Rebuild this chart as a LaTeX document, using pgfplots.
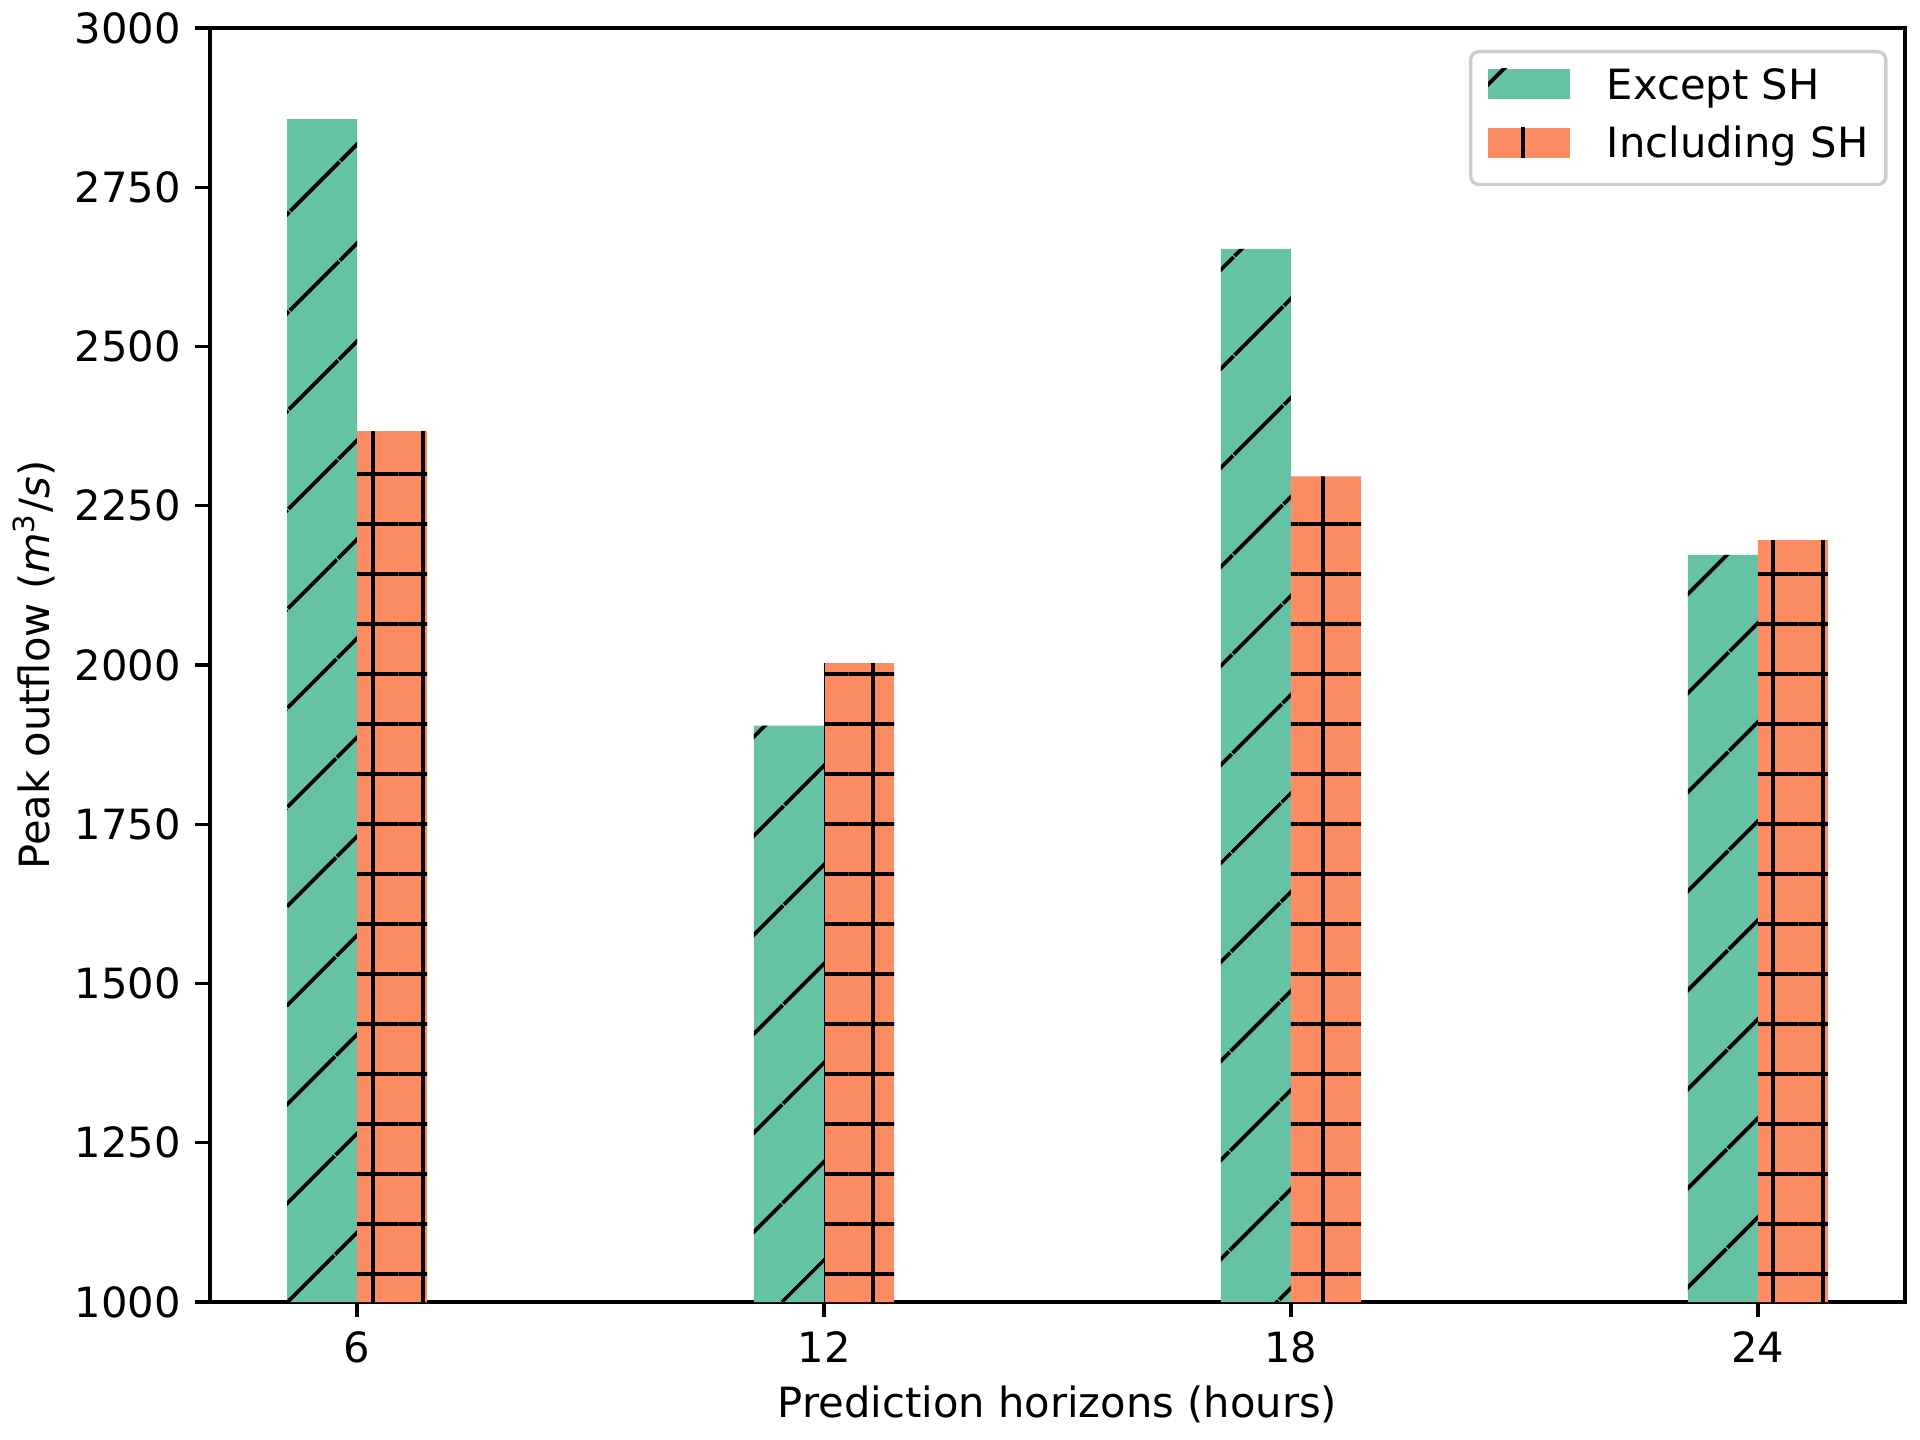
\documentclass[border=0pt]{standalone}
\usepackage{pgfplots}
\pgfplotsset{compat=1.18}
\usepackage{fontspec}
\setmainfont{DejaVu Sans}
\usetikzlibrary{patterns.meta}
\definecolor{cg}{HTML}{66C2A5}
\definecolor{co}{HTML}{FC8D62}
\definecolor{legedge}{gray}{0.8}

\pgfplotstableread{
x except including
6 2857 2367
12 1905 2003
18 2653 2296
24 2173 2196
}\datatab

\begin{document}
\fontsize{10pt}{12pt}\selectfont
\begin{tikzpicture}
\useasboundingbox (0,0) rectangle (460.8pt,345.6pt);
\begin{axis}[
  at={(50.4pt,33.1pt)}, anchor=south west,
  scale only axis, width=406.8pt, height=305.8pt,
  xmin=4.11, xmax=25.89, ymin=1000, ymax=3000,
  xtick={6,12,18,24}, ytick={1000,1250,...,3000},
  tick align=outside, major tick length=3.5pt,
  tick style={line width=0.8pt, black},
  axis line style={line width=0.8pt},
  tick pos=left,
  /pgf/number format/assume math mode=true,
  /pgf/number format/1000 sep={},
  xlabel={Prediction horizons (hours)},
  ylabel={Peak outflow (\textit{m}\textsuperscript{3}/\textit{s})},
  xlabel style={at={(axis description cs:0.5,0)}, anchor=center, yshift=-24.5pt},
  ylabel style={at={(axis description cs:0,0.5)}, anchor=center, yshift=42.2pt},
  legend cell align=left,
  legend image code/.code={\draw[#1, draw=none, sharp corners, fill opacity=1] (0pt,-2.45pt) rectangle (19.7pt,4.75pt);},
  legend style={at={(1,1)}, anchor=north east, xshift=-4.2pt, yshift=-5.3pt,
    draw=legedge, line width=0.8pt, rounded corners=2pt, fill=white, fill opacity=0.8, text opacity=1,
    inner xsep=4.2pt, inner ysep=3.9pt, row sep=4.1pt, column sep=0pt,
    nodes={inner sep=0pt, text height=7.5pt, text depth=2.5pt},
    /tikz/every odd column/.append style={column sep=8.8pt}},
]
\addplot[ybar, bar width=0.9, bar shift=-0.45, fill=cg, draw=none,
  postaction={pattern={Lines[angle=45,distance=17pt,line width=1pt,yshift=-7.3pt]}}]
  table[x=x, y=except] {\datatab};
\addlegendentry{Except SH}
\addplot[ybar, bar width=0.9, bar shift=0.45, fill=co, draw=none,
  postaction={pattern={Hatch[angle=0,distance=12pt,line width=1pt,xshift=5.6pt,yshift=3.8pt]}}]
  table[x=x, y=including] {\datatab};
\addlegendentry{Including SH}
\end{axis}
\end{tikzpicture}
\end{document}
